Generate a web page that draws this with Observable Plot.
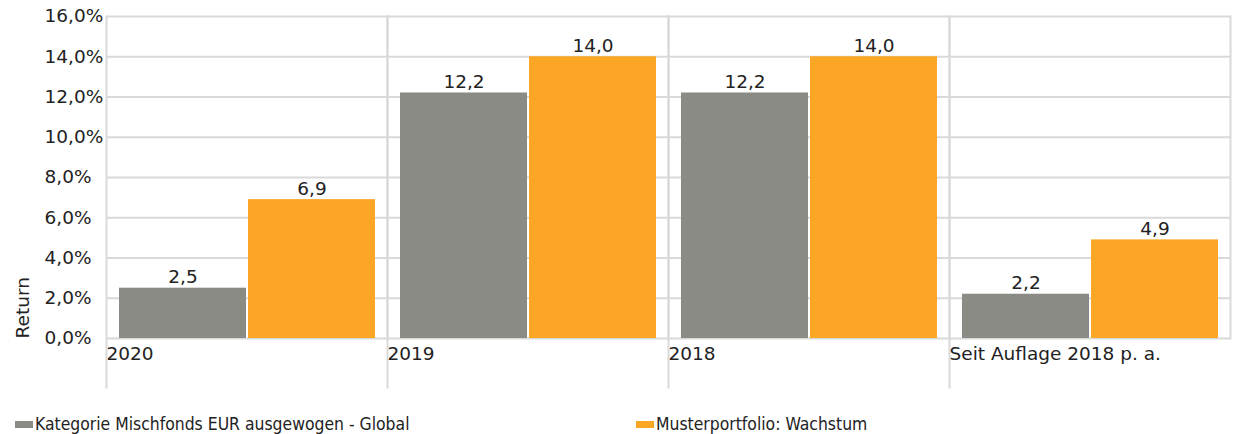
<!DOCTYPE html>
<html>
<head>
<meta charset="utf-8">
<script src="https://cdn.jsdelivr.net/npm/d3@7"></script>
<script src="https://cdn.jsdelivr.net/npm/@observablehq/plot@0.6"></script>
<style>
  html, body { margin: 0; padding: 0; background: #fff; }
  #chart svg { display: block; }
  .legend { position: relative; height: 39px; font-family: "DejaVu Sans Condensed", "Liberation Sans Narrow", "DejaVu Sans", sans-serif; font-stretch: condensed; font-size: 17.4px; color: #222; }
  .legend .item { position: absolute; top: 19px; display: flex; align-items: center; white-space: nowrap; }
  .legend .sw { width: 18px; height: 7px; margin-right: 2px; }
</style>
</head>
<body>
<div id="chart"></div>
<div class="legend" id="legend"></div>
<script>
const categories = ["2020", "2019", "2018", "Seit Auflage 2018 p. a."];
const series = ["Kategorie Mischfonds EUR ausgewogen - Global", "Musterportfolio: Wachstum"];
const kategorieValues = [2.5, 12.2, 12.2, 2.2];
const musterValues = [6.9, 14.0, 14.0, 4.9];
const yTicks = [0, 2, 4, 6, 8, 10, 12, 14, 16];
const colors = ["#8b8b86", "#fba624"];

const rows = [];
categories.forEach((c, i) => {
  rows.push({category: c, series: series[0], value: kategorieValues[i]});
  rows.push({category: c, series: series[1], value: musterValues[i]});
});

const fmtTick = d => d.toFixed(1).replace(".", ",") + "%";
const fmtVal = d => d.toFixed(1).replace(".", ",");

const chart = Plot.plot({
  width: 1235,
  height: 395,
  marginTop: 16,
  marginBottom: 57,
  marginLeft: 105,
  marginRight: 5,
  style: {fontFamily: "DejaVu Sans, sans-serif", fontSize: "18.5px", color: "#222", background: "#fff"},
  fx: {domain: categories, padding: 0, axis: null},
  x: {domain: series, paddingInner: 0.016, paddingOuter: 0.095, axis: null},
  y: {domain: [0, 16], axis: null},
  color: {domain: series, range: colors},
  marks: [
    Plot.ruleY(yTicks, {stroke: "#d9d9d9", strokeWidth: 2}),
    Plot.frame({anchor: "left", stroke: "#d9d9d9", strokeWidth: 2, insetBottom: -49}),
    Plot.frame({anchor: "right", stroke: "#d9d9d9", strokeWidth: 2}),
    Plot.barY(rows, {fx: "category", x: "series", y: "value", fill: "series"}),
    Plot.text(rows, {fx: "category", x: "series", y: "value", text: d => fmtVal(d.value), lineAnchor: "bottom", dy: -5, fill: "#222"}),
    Plot.text(categories, {fx: d => d, text: d => d, frameAnchor: "bottom-left", textAnchor: "start", dy: 21, dx: 0, fill: "#222"}),
    Plot.text(yTicks, {fx: () => categories[0], y: d => d, text: fmtTick, frameAnchor: "left", textAnchor: "start", dx: -62, fill: "#222"}),
    Plot.text(["Return"], {fx: () => categories[0], text: d => d, frameAnchor: "bottom-left", textAnchor: "start", rotate: -90, dx: -78, fill: "#222"})
  ]
});
document.getElementById("chart").appendChild(chart);

const legend = document.getElementById("legend");
const lefts = [15, 636];
series.forEach((s, i) => {
  const item = document.createElement("div");
  item.className = "item";
  item.style.left = lefts[i] + "px";
  const sw = document.createElement("span");
  sw.className = "sw";
  sw.style.background = colors[i];
  const label = document.createElement("span");
  label.textContent = s;
  item.appendChild(sw);
  item.appendChild(label);
  legend.appendChild(item);
});
</script>
</body>
</html>
